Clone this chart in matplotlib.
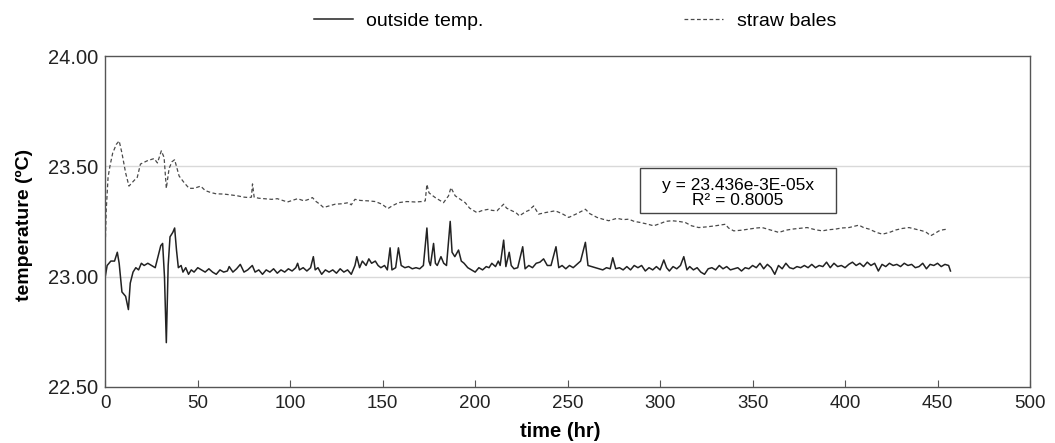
import numpy as np
import matplotlib
matplotlib.use("Agg")
import matplotlib.pyplot as plt
from matplotlib.patches import Rectangle

plt.rcParams['font.family'] = ['Liberation Sans', 'DejaVu Sans']

# outside temperature (solid line)
t_outside = [0, 1, 3, 5, 6.5, 7.5, 9, 11, 12.5, 13.5, 15, 16.5, 18, 19.5, 21, 23, 25, 27, 28.5, 30,
             31, 32, 33, 34, 35, 36.5, 37.5, 38.5, 39.5, 41, 42, 43.5, 45, 46.5, 48, 50, 52, 54, 56, 58,
             60, 62, 64, 66, 67, 69, 71, 73, 75, 77, 79.5, 81, 83, 85, 87, 89, 91, 93, 95, 97,
             99, 101, 103, 104, 105, 107, 109, 111, 112.5, 113.5, 115, 117, 119, 121, 123, 125, 127, 129, 131, 133,
             135, 136, 137.5, 139, 141, 142.5, 144, 146, 147.5, 149, 151, 152.5, 154, 155, 157, 158.5, 160, 162, 164, 166,
             168, 170, 172, 173.9, 175, 175.8, 177.5, 178.5, 179.5, 181.5, 183, 184.5, 186.5, 187.5, 189, 191, 192.5, 194, 196, 198,
             200, 202, 204, 206, 207.5, 209, 211, 212.5, 213.5, 215.4, 216.6, 218.4, 219.5, 221, 223, 225.7, 227, 229, 231, 233,
             235, 237, 239, 241, 243.7, 245.2, 247, 249, 251, 253, 255, 257, 259.6, 261, 263, 265, 267, 269, 271, 273,
             274.4, 276, 278, 280, 282, 284, 286, 288, 290, 292, 294, 296, 298, 300, 302, 303.5, 305, 307, 309, 311,
             312.8, 314.5, 316, 318, 320, 322, 324, 326, 328, 330, 332, 334, 336, 338, 340, 342, 344, 346, 348, 350,
             352, 354, 356, 358, 360, 362, 364, 366, 368, 370, 372, 374, 376, 378, 380, 382, 384, 386, 388, 390,
             392, 394, 396, 398, 400, 402, 404, 406, 408, 410, 412, 414, 416, 418, 420, 422, 424, 426, 428, 430,
             432, 434, 436, 438, 440, 442, 444, 446, 448, 450, 452, 454, 456, 457]
outside = [23.00, 23.05, 23.07, 23.07, 23.11, 23.06, 22.93, 22.91, 22.85, 22.97, 23.02, 23.04, 23.03, 23.06, 23.05, 23.06, 23.05, 23.04, 23.09, 23.14,
           23.15, 23.00, 22.70, 23.05, 23.18, 23.20, 23.22, 23.12, 23.04, 23.05, 23.02, 23.04, 23.01, 23.03, 23.02, 23.04, 23.03, 23.02, 23.035, 23.02,
           23.01, 23.03, 23.02, 23.025, 23.045, 23.02, 23.035, 23.055, 23.02, 23.03, 23.05, 23.02, 23.03, 23.01, 23.03, 23.02, 23.035, 23.015, 23.03, 23.02,
           23.035, 23.025, 23.04, 23.06, 23.03, 23.04, 23.025, 23.04, 23.09, 23.03, 23.04, 23.01, 23.03, 23.02, 23.03, 23.015, 23.035, 23.02, 23.03, 23.01,
           23.05, 23.09, 23.04, 23.07, 23.05, 23.08, 23.06, 23.07, 23.05, 23.04, 23.05, 23.03, 23.13, 23.03, 23.04, 23.13, 23.05, 23.04, 23.045, 23.035,
           23.04, 23.035, 23.05, 23.22, 23.07, 23.05, 23.15, 23.06, 23.05, 23.09, 23.06, 23.05, 23.25, 23.11, 23.09, 23.12, 23.07, 23.06, 23.04, 23.03,
           23.02, 23.04, 23.03, 23.045, 23.04, 23.06, 23.045, 23.07, 23.05, 23.165, 23.045, 23.11, 23.05, 23.035, 23.04, 23.135, 23.035, 23.05, 23.04, 23.06,
           23.065, 23.08, 23.05, 23.05, 23.135, 23.04, 23.05, 23.035, 23.05, 23.04, 23.055, 23.07, 23.155, 23.05, 23.045, 23.04, 23.035, 23.03, 23.04, 23.035,
           23.085, 23.035, 23.04, 23.03, 23.045, 23.03, 23.05, 23.04, 23.05, 23.025, 23.04, 23.03, 23.045, 23.03, 23.075, 23.04, 23.025, 23.045, 23.035, 23.05,
           23.09, 23.03, 23.045, 23.03, 23.04, 23.02, 23.01, 23.035, 23.04, 23.03, 23.05, 23.035, 23.045, 23.03, 23.035, 23.04, 23.025, 23.04, 23.035, 23.05,
           23.04, 23.06, 23.035, 23.055, 23.04, 23.01, 23.05, 23.035, 23.06, 23.04, 23.035, 23.045, 23.04, 23.05, 23.04, 23.055, 23.04, 23.05, 23.045, 23.065,
           23.04, 23.06, 23.045, 23.05, 23.04, 23.055, 23.065, 23.05, 23.06, 23.045, 23.065, 23.05, 23.06, 23.025, 23.055, 23.045, 23.06, 23.05, 23.055, 23.045,
           23.06, 23.05, 23.055, 23.04, 23.045, 23.06, 23.035, 23.055, 23.05, 23.06, 23.045, 23.055, 23.05, 23.025]

# straw bales (dashed line)
t_straw = [0, 0.5, 1.5, 2.5, 4, 6, 7.5, 9, 11, 12.8, 15.5, 17.3, 19, 22.7, 26.4, 28.2, 30.3, 31.8, 33, 34.5,
           36, 37.5, 39.9, 42.6, 45.3, 48, 51.6, 54, 57, 60, 64, 68, 71.4, 75, 77.8, 79, 79.6, 80.5, 83, 86,
           90, 93, 96, 98.5, 101, 104, 107.5, 110, 112, 114, 116, 118, 121, 124.3, 128, 131.5, 133, 135, 138, 142.3,
           146, 149.6, 152.8, 155, 158.6, 163, 167.6, 171, 173, 173.9, 175, 176, 178.4, 181, 182.9, 185.6, 186.9, 189.2, 192, 194.6,
           197, 200.9, 204, 207.3, 209, 211.8, 215.4, 217, 219.9, 222, 223.9, 227.1, 229, 231.6, 234.3, 238, 243.3, 247, 250.6, 255,
           259.6, 262, 265.9, 269, 272.2, 276.7, 280, 283, 286, 289.3, 293, 296.5, 300, 303, 306.4, 310, 313.6, 317, 320.9, 325,
           329.9, 335.3, 337, 339.8, 344, 348, 352, 355.2, 360, 364.2, 368, 371.5, 375, 379.5, 384, 387.7, 391, 394.9, 398, 402.1,
           405, 407.5, 410, 413, 417, 420.2, 424, 427.4, 431, 434.6, 438, 441.8, 444, 446.3, 448.5, 450.8, 453, 455.3]
straw = [23.15, 23.30, 23.45, 23.50, 23.56, 23.60, 23.615, 23.56, 23.47, 23.41, 23.435, 23.45, 23.51, 23.525, 23.535, 23.515, 23.57, 23.54, 23.40, 23.49,
         23.52, 23.53, 23.456, 23.426, 23.40, 23.40, 23.41, 23.39, 23.381, 23.375, 23.374, 23.37, 23.366, 23.36, 23.358, 23.36, 23.42, 23.36, 23.355, 23.353,
         23.35, 23.353, 23.345, 23.338, 23.345, 23.353, 23.343, 23.35, 23.358, 23.34, 23.328, 23.313, 23.32, 23.328, 23.33, 23.335, 23.325, 23.35, 23.345, 23.343,
         23.34, 23.328, 23.308, 23.32, 23.335, 23.34, 23.338, 23.34, 23.343, 23.418, 23.38, 23.373, 23.358, 23.345, 23.335, 23.366, 23.403, 23.366, 23.35, 23.335,
         23.31, 23.29, 23.30, 23.305, 23.30, 23.298, 23.328, 23.31, 23.298, 23.29, 23.275, 23.293, 23.30, 23.32, 23.283, 23.29, 23.298, 23.285, 23.268, 23.285,
         23.305, 23.285, 23.268, 23.26, 23.253, 23.264, 23.258, 23.26, 23.25, 23.245, 23.238, 23.23, 23.24, 23.25, 23.253, 23.25, 23.245, 23.23, 23.222, 23.225,
         23.23, 23.237, 23.22, 23.207, 23.21, 23.215, 23.22, 23.222, 23.21, 23.20, 23.21, 23.215, 23.218, 23.222, 23.212, 23.207, 23.212, 23.215, 23.22, 23.222,
         23.228, 23.233, 23.222, 23.215, 23.20, 23.192, 23.20, 23.211, 23.218, 23.222, 23.215, 23.207, 23.20, 23.185, 23.195, 23.207, 23.212, 23.215]

x_ticks = [0, 50, 100, 150, 200, 250, 300, 350, 400, 450, 500]
y_ticks = [22.5, 23.0, 23.5, 24.0]
y_tick_labels = ["22.50", "23.00", "23.50", "24.00"]
fit_text = "y = 23.436e-3E-05x\nR² = 0.8005"

fig = plt.figure(figsize=(10.55, 4.43), dpi=100)
ax = fig.add_axes([0.0998, 0.127, 0.8765, 0.7465])

for y in y_ticks[1:3]:
    ax.axhline(y, color="#d9d9d9", lw=1.0, zorder=0)

ax.plot(t_outside, outside, color="#222222", lw=1.1, label="outside temp.")
ax.plot(t_straw, straw, color="#4a4a4a", lw=0.9, dashes=(3, 2), label="straw bales")

ax.set_xlim(0, 500)
ax.set_ylim(22.5, 24.0)
ax.set_xticks(x_ticks)
ax.set_yticks(y_ticks)
ax.set_yticklabels(y_tick_labels)
ax.tick_params(axis="x", direction="in", length=5, color="#555555", labelsize=13.5, pad=6, labelcolor="#222222")
ax.tick_params(axis="y", length=0, labelsize=14.5, pad=5, labelcolor="#222222")
for s in ax.spines.values():
    s.set_color("#555555")
    s.set_linewidth(1.0)

ax.set_xlabel("time (hr)", fontsize=14.5, fontweight="bold")
ax.xaxis.set_label_coords(0.492, -0.107)
ax.set_ylabel("temperature (ºC)", fontsize=14, fontweight="bold")
ax.yaxis.set_label_coords(-0.078, 0.49)

# regression box
ax.add_patch(Rectangle((0.5787, 0.524), 0.2113, 0.138, transform=ax.transAxes,
                       fill=False, ec="#444444", lw=1.0, zorder=5))
ax.text(0.6843, 0.586, fit_text, transform=ax.transAxes, ha="center", va="center",
        fontsize=12.5, linespacing=1.05, zorder=6)

fig.legend(loc="center", bbox_to_anchor=(0.545, 0.952), ncol=2, frameon=False,
           fontsize=14, handlelength=2.0, columnspacing=10.3, handletextpad=0.7)

fig.savefig("out.png", dpi=100)
